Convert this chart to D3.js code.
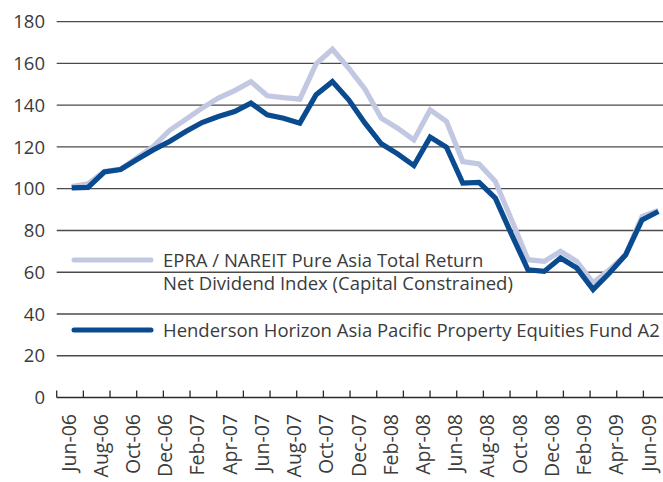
<!DOCTYPE html>
<html>
<head>
<meta charset="utf-8">
<script src="https://cdn.jsdelivr.net/npm/d3@7"></script>
<style>
  body { margin: 0; background: #fff; }
  svg { display: block; font-family: "Open Sans", sans-serif; }
</style>
</head>
<body>
<div class="container"></div>
<script>
// monthly index values, Jun-06 .. Jun-09

const months = ["Jun-06","Jul-06","Aug-06","Sep-06","Oct-06","Nov-06","Dec-06",
  "Jan-07","Feb-07","Mar-07","Apr-07","May-07","Jun-07","Jul-07","Aug-07","Sep-07",
  "Oct-07","Nov-07","Dec-07","Jan-08","Feb-08","Mar-08","Apr-08","May-08","Jun-08",
  "Jul-08","Aug-08","Sep-08","Oct-08","Nov-08","Dec-08","Jan-09","Feb-09","Mar-09",
  "Apr-09","May-09","Jun-09"];

let epra = [101, 102.4, 108.3, 109.4, 114.8, 120.2, 127.9, 133.2, 138.6, 143.4, 147,
  151.3, 144.5, 143.6, 142.9, 159.8, 166.8, 157.7, 147.7, 133.8, 129, 123.4, 137.8,
  132.2, 113, 111.9, 103.5, 85, 66, 65.2, 70, 65.2, 54.9, 61.2, 68.4, 86.7, 89.6];

let henderson = [100.4, 100.6, 108, 109.2, 114, 118.6, 122.6, 127.4, 131.7, 134.6, 137,
  141, 135.4, 133.8, 131.4, 145, 151.3, 142.6, 131.4, 121.5, 116.7, 111.1, 124.7,
  119.9, 102.7, 103, 95.5, 78, 61.2, 60.4, 66.8, 62, 51.7, 59.6, 68.4, 85.1, 89.1];

const yTicks = [0, 20, 40, 60, 80, 100, 120, 140, 160, 180];

const legendNames = [
  ["EPRA / NAREIT Pure Asia Total Return", "Net Dividend Index (Capital Constrained)"],
  ["Henderson Horizon Asia Pacific Property Equities Fund A2"]
];

let w = 663;
let h = 482;
let left = 56.7;
let textColor = "#3b3b3b";
let lightBlue = "#c3c8e2";
let darkBlue = "#0a4a8f";

const xScale = d3.scaleLinear()
  .domain([0, months.length - 1])
  .range([71.7, 658.3]);

// labels sit a touch left of the points in the original
const labelScale = d3.scaleLinear()
  .domain([0, months.length - 1])
  .range([68.5, 648.5]);

// tick marks on the category axis don't line up with months
const tickScale = d3.scaleLinear()
  .domain([0, 22])
  .range([left, 643.4]);

const yScale = d3.scaleLinear()
  .domain([0, 180])
  .range([397.5, 21.7]);

const svg = d3.select(".container")
  .append("svg")
  .attr("width", w)
  .attr("height", h);

// gridlines
svg.append("g")
  .selectAll("line")
  .data(yTicks.filter(d => d > 0))
  .join("line")
  .attr("x1", left)
  .attr("x2", w)
  .attr("y1", d => yScale(d))
  .attr("y2", d => yScale(d))
  .attr("stroke", "#4a4a4a")
  .attr("stroke-width", 1.3);

// y labels
svg.append("g")
  .selectAll("text")
  .data(yTicks)
  .join("text")
  .attr("x", 45)
  .attr("y", d => yScale(d))
  .attr("dy", "0.36em")
  .attr("text-anchor", "end")
  .attr("font-size", "18.5px")
  .attr("fill", textColor)
  .text(d => d);

// x axis line + ticks
svg.append("line")
  .attr("x1", left)
  .attr("x2", w)
  .attr("y1", yScale(0))
  .attr("y2", yScale(0))
  .attr("stroke", "#2a2a2a")
  .attr("stroke-width", 1.5);

svg.append("g")
  .selectAll("line")
  .data(d3.range(23))
  .join("line")
  .attr("x1", d => tickScale(d))
  .attr("x2", d => tickScale(d))
  .attr("y1", yScale(0))
  .attr("y2", yScale(0) - 7)
  .attr("stroke", "#2a2a2a")
  .attr("stroke-width", 1.3);

// x labels, every 2nd month, rotated
svg.append("g")
  .selectAll("text")
  .data(months.map((m, i) => ({ m, i })).filter(d => d.i % 2 == 0))
  .join("text")
  .attr("transform", d => `translate(${labelScale(d.i)},414) rotate(-90)`)
  .attr("dy", "0.36em")
  .attr("text-anchor", "end")
  .attr("font-size", "19.5px")
  .attr("fill", textColor)
  .text(d => d.m);

const line = d3.line()
  .x((d, i) => xScale(i))
  .y(d => yScale(d));

svg.append("path")
  .datum(epra)
  .attr("d", line)
  .attr("fill", "none")
  .attr("stroke", lightBlue)
  .attr("stroke-width", 5.2)
  .attr("stroke-linejoin", "miter");

svg.append("path")
  .datum(henderson)
  .attr("d", line)
  .attr("fill", "none")
  .attr("stroke", darkBlue)
  .attr("stroke-width", 5.2)
  .attr("stroke-linejoin", "miter");

// legend
const legend = svg.append("g");
const legendY = [260, 330];
const legendColors = [lightBlue, darkBlue];

legend.selectAll("line")
  .data(legendNames)
  .join("line")
  .attr("x1", 74)
  .attr("x2", 151)
  .attr("y1", (d, i) => legendY[i])
  .attr("y2", (d, i) => legendY[i])
  .attr("stroke", (d, i) => legendColors[i])
  .attr("stroke-width", 5)
  .attr("stroke-linecap", "round");

legend.selectAll("text")
  .data(legendNames)
  .join("text")
  .attr("x", 163)
  .attr("y", (d, i) => legendY[i] + 6.7)
  .attr("font-size", "18.5px")
  .attr("fill", textColor)
  .selectAll("tspan")
  .data(d => d)
  .join("tspan")
  .attr("x", 163)
  .attr("dy", (d, i) => i == 0 ? 0 : 23.5)
  .text(d => d);
</script>
</body>
</html>
